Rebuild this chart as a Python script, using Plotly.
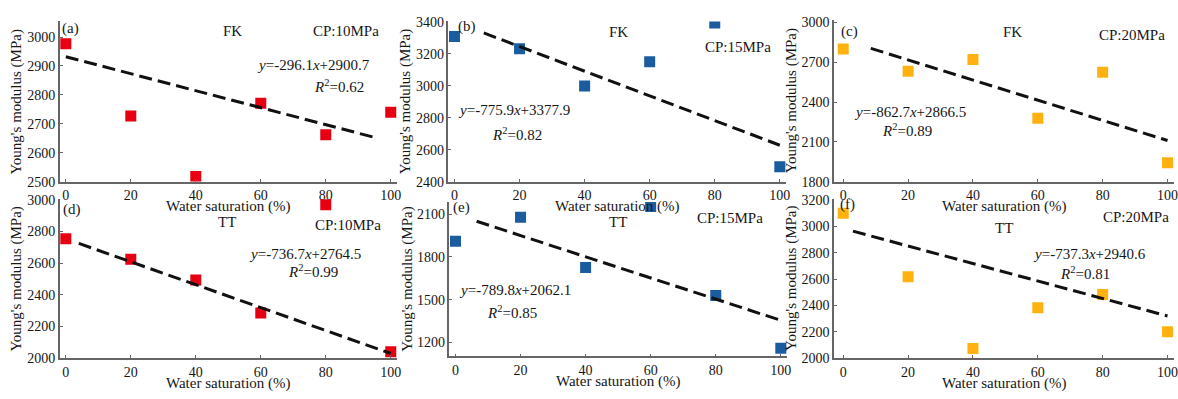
import plotly.graph_objects as go

W, H = 1178, 399

water = [0, 20, 40, 60, 80, 100]

fk_10 = [2977, 2727, 2518, 2771, 2662, 2740]
fk_15 = [3309, 3233, 3000, 3152, 3395, 2493]
fk_20 = [2800, 2632, 2720, 2278, 2625, 1942]
tt_10 = [2755, 2625, 2494, 2286, 2970, 2041]
tt_15 = [1909, 2078, 1726, 2154, 1530, 1159]
tt_20 = [3098, 2617, 2073, 2383, 2483, 2200]

fit_a_x, fit_a_y = [0, 96], [2932, 2650]
fit_b_x, fit_b_y = [9, 100], [3332, 2628]
fit_c_x, fit_c_y = [8.5, 100], [2805, 2110]
fit_d_x, fit_d_y = [4, 100], [2725, 2030]
fit_e_x, fit_e_y = [6.5, 100], [2050, 1355]
fit_f_x, fit_f_y = [3, 100], [2963, 2320]

labels = ["(a)", "(b)", "(c)", "(d)", "(e)", "(f)"]
rocks = ["FK", "FK", "FK", "TT", "TT", "TT"]
pressures = ["CP:10MPa", "CP:15MPa", "CP:20MPa", "CP:10MPa", "CP:15MPa", "CP:20MPa"]
equations = ["-296.1", "-775.9", "-862.7", "-736.7", "-789.8", "-737.3"]
intercepts = ["2900.7", "3377.9", "2866.5", "2764.5", "2062.1", "2940.6"]
r2 = ["0.62", "0.82", "0.89", "0.99", "0.85", "0.81"]

RED, BLUE, GOLD = "#E60012", "#1B5C9E", "#FFB20F"

panels = [
    dict(y=fk_10, fx=fit_a_x, fy=fit_a_y, color=RED, box=(60, 398.6, 16, 182), yr=[2500, 3054], dt=100, t0=2500, xr=[-1.85, 102]),
    dict(y=fk_15, fx=fit_b_x, fy=fit_b_y, color=BLUE, box=(450, 789, 16, 182), yr=[2400, 3404], dt=200, t0=2400, xr=[-1.85, 102]),
    dict(y=fk_20, fx=fit_c_x, fy=fit_c_y, color=GOLD, box=(837, 1178, 15, 182), yr=[1800, 3015], dt=300, t0=1800, xr=[-2.8, 102]),
    dict(y=tt_10, fx=fit_d_x, fy=fit_d_y, color=RED, box=(60, 398.6, 200, 365), yr=[2000, 3006], dt=200, t0=2000, xr=[-1.85, 102]),
    dict(y=tt_15, fx=fit_e_x, fy=fit_e_y, color=BLUE, box=(451, 790, 203, 363), yr=[1103, 2186], dt=300, t0=1200, xr=[-1.85, 102]),
    dict(y=tt_20, fx=fit_f_x, fy=fit_f_y, color=GOLD, box=(837, 1178, 200, 365), yr=[2000, 3207], dt=200, t0=2000, xr=[-2.8, 102]),
]

# annotation positions in pixels: (label, rock, cp, eq, r2)
ann_pos = [
    [(60, 23), (233, 26), (347, 26), (315, 61), (340, 83)],
    [(458, 21), (621, 27), (741, 42), (516, 108), (519, 133)],
    [(842, 26), (1016, 27), (1136, 30), (913, 110), (910, 128)],
    [(61, 211), (228, 224), (349, 227), (306, 257), (314, 275)],
    [(453, 209), (620, 224), (732, 220), (517, 294), (514, 317)],
    [(841, 206), (1007, 230), (1140, 219), (1093, 257), (1089, 277)],
]

FONT = "Liberation Serif, Times New Roman, serif"
TXT = "#161616"
AX = "#666666"

def px(p):
    return p / W

def py(p):
    return 1 - p / H

fig = go.Figure()
annotations = []

for i, p in enumerate(panels):
    n = "" if i == 0 else str(i + 1)
    xa, ya = "x" + n, "y" + n
    fig.add_trace(go.Scatter(
        x=water, y=p["y"], mode="markers", xaxis=xa, yaxis=ya,
        marker=dict(symbol="square", size=11, color=p["color"], line=dict(width=0)),
        showlegend=False, cliponaxis=True))
    fig.add_trace(go.Scatter(
        x=p["fx"], y=p["fy"], mode="lines", xaxis=xa, yaxis=ya,
        line=dict(color="#111111", width=3, dash="13px,6px"),
        showlegend=False))
    x0, x1, y0, y1 = p["box"]
    ticks = list(range(p["t0"], int(p["yr"][1]) + 1, p["dt"]))
    fig.update_layout(**{
        "xaxis" + n: dict(
            domain=[px(x0), px(x1)], range=p["xr"], anchor=ya,
            tickmode="array", tickvals=water, ticktext=[str(v) for v in water],
            ticks="inside", ticklen=3, tickcolor=AX, showline=True, linecolor=AX, linewidth=1.5,
            showgrid=False, zeroline=False, mirror=False, ticklabeloverflow="allow",
            tickfont=dict(family=FONT, size=14, color=TXT),
        ),
        "yaxis" + n: dict(
            domain=[py(y1), py(y0)], range=p["yr"], anchor=xa,
            tickmode="array", tickvals=ticks, ticktext=[str(v) for v in ticks],
            ticks="inside", ticklen=3, tickcolor=AX, showline=True, linecolor=AX, linewidth=1.5,
            showgrid=False, zeroline=False, mirror=False, ticklabeloverflow="allow",
            tickfont=dict(family=FONT, size=14, color=TXT),
        ),
    })
    # axis titles as annotations
    annotations.append(dict(
        x=px((x0 + x1) / 2), y=py(y1 + 26), xref="paper", yref="paper",
        text="Water saturation (%)", showarrow=False, xanchor="center", yanchor="middle",
        font=dict(family=FONT, size=15, color=TXT)))
    annotations.append(dict(
        x=px(x0 - 43), y=py((y0 + y1) / 2), xref="paper", yref="paper",
        text="Young's modulus (MPa)", showarrow=False, textangle=-90,
        xanchor="center", yanchor="middle",
        font=dict(family=FONT, size=15, color=TXT)))
    pos = ann_pos[i]
    lx, ly = pos[0]
    annotations.append(dict(x=px(lx), y=py(ly), xref="paper", yref="paper", text=labels[i],
                            showarrow=False, xanchor="left", yanchor="middle",
                            font=dict(family=FONT, size=15, color=TXT)))
    texts = [rocks[i], pressures[i],
             "<i>y</i>=" + equations[i] + "<i>x</i>+" + intercepts[i],
             "<i>R</i><sup>2</sup>=" + r2[i]]
    for (tx, ty), t in zip(pos[1:], texts):
        annotations.append(dict(x=px(tx), y=py(ty), xref="paper", yref="paper", text=t,
                                showarrow=False, xanchor="center", yanchor="middle",
                                font=dict(family=FONT, size=15, color=TXT)))

fig.update_layout(
    width=W, height=H,
    margin=dict(l=0, r=0, t=0, b=0),
    paper_bgcolor="white", plot_bgcolor="rgba(0,0,0,0)",
    annotations=annotations,
    font=dict(family=FONT, color=TXT),
)

fig.write_html("out.html")
